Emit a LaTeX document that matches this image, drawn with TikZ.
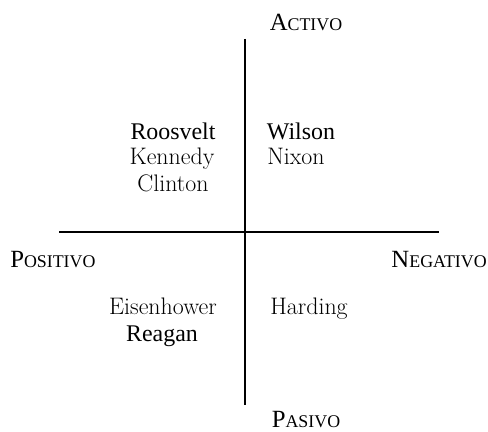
\documentclass[tikz,border=0pt]{standalone}
\usepackage{fontspec}
\setmainfont{Liberation Serif}
\newfontfamily\lmfont{Latin Modern Roman}
% hand-made small caps for the pole labels
\newcommand{\polecaps}[2]{{\fontsize{17.6}{20}\selectfont #1}{\fontsize{12.7}{15}\selectfont #2}}

\begin{document}
\begin{tikzpicture}[x=0.025cm,y=-0.025cm,
  axis/.style={line width=1.4pt},
  pole/.style={inner sep=0pt,anchor=base},
  major/.style={inner sep=0pt,anchor=base,font=\fontsize{17}{20}\selectfont},
  minor/.style={inner sep=0pt,anchor=base,font=\lmfont\fontsize{17}{20}\selectfont}]
  \useasboundingbox (0,0) rectangle (488,432);
  % axes
  \coordinate (top) at (245,39);
  \coordinate (bottom) at (245,405);
  \coordinate (left) at (59,232);
  \coordinate (right) at (439,232);
  \draw[axis] (top) -- (bottom);
  \draw[axis] (left) -- (right);
  % poles
  \node[pole] (activo) at (306,31) {\polecaps{A}{CTIVO}};
  \node[pole] (pasivo) at (306,428) {\polecaps{P}{ASIVO}};
  \node[pole,anchor=base west] (positivo) at (10,268) {\polecaps{P}{OSITIVO}};
  \node[pole,anchor=base east] (negativo) at (487,268) {\polecaps{N}{EGATIVO}};
  % upper quadrants
  \node[major] (roosvelt) at (173,140) {Roosvelt};
  \node[minor] (kennedy) at (172,165) {Kennedy};
  \node[minor] (clinton) at (173,192) {Clinton};
  \node[major] (wilson) at (301,140) {Wilson};
  \node[minor] (nixon) at (296,165) {Nixon};
  % lower quadrants
  \node[minor] (eisenhower) at (163,315) {Eisenhower};
  \node[major] (reagan) at (162,342) {Reagan};
  \node[minor] (harding) at (309,315) {Harding};
\end{tikzpicture}
\end{document}
